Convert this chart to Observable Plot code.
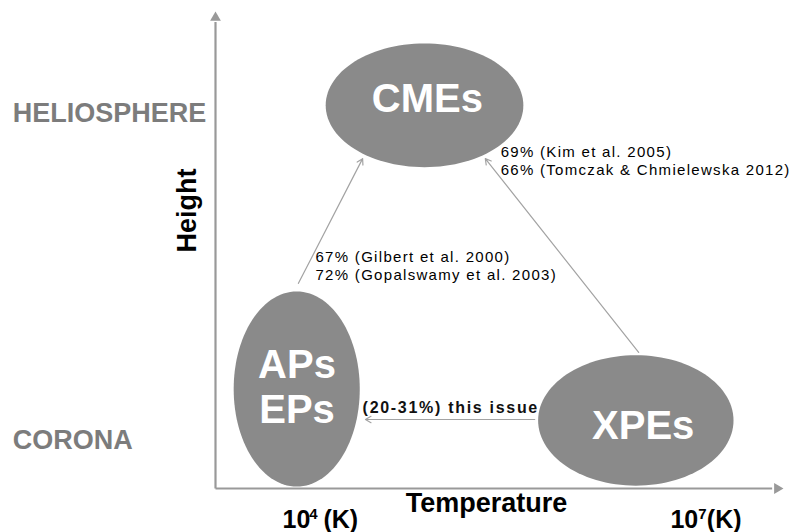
<!DOCTYPE html>
<html>
<head>
<meta charset="utf-8">
<script src="https://cdn.jsdelivr.net/npm/d3@7"></script>
<script src="https://cdn.jsdelivr.net/npm/@observablehq/plot@0.6"></script>
<style>
  html, body { margin: 0; padding: 0; background: #fff; }
  #chart svg { display: block; }
</style>
</head>
<body>
<div id="chart"></div>
<script>
// ---- Data (abstract diagram units: temperature 0–100, height 0–100) ----
const ellipseNames = ["CMEs", "APs/EPs", "XPEs"];
const ellipseCx = [36.8, 14.3, 74.0];
const ellipseCy = [80.5, 20.9, 14.3];
const ellipseRx = [17.4, 11.1, 17.2];
const ellipseRy = [13.0, 20.5, 13.7];

const arrowNames = ["APs→CMEs", "XPEs→CMEs", "XPEs→APs"];
const arrowX1 = [14.6, 74.5, 56.2];
const arrowY1 = [43.1, 28.6, 14.5];
const arrowX2 = [25.9, 47.5, 26.4];
const arrowY2 = [69.3, 69.3, 14.5];

const regionLabels = ["HELIOSPHERE", "CORONA"];
const regionY = [77.0, 8.4];
const regionX = [-35.7, -35.7];

const eventLabels = ["CMEs", "APs", "EPs", "XPEs"];
const eventX = [37.3, 14.35, 14.35, 75.3];
const eventY = [79.0, 23.3, 13.7, 10.5];

const citationLabels = [
  "69% (Kim et al. 2005)",
  "66% (Tomczak & Chmielewska 2012)",
  "67% (Gilbert et al. 2000)",
  "72% (Gopalswamy et al. 2003)"
];
const citationX = [50.2, 50.2, 17.6, 17.6];
const citationY = [69.7, 65.8, 47.5, 43.7];

const issueLabel = ["(20-31%) this issue"];
const issueX = [25.9];
const issueY = [15.8];

const tickBase = ["10", "10"];
const tickExp = ["4", "7"];
const tickUnit = ["(K)", "(K)"];
const tickBaseX = [11.8, 80.1];
const tickExpX = [16.5, 85.0];
const tickUnitX = [19.0, 86.5];
const tickY = -8.4;
const tickExpY = -6.5;

const xTitle = "Temperature";
const yTitle = "Height";

// ---- Tables built from the arrays ----
const FONT = "Liberation Sans, Arial, Helvetica, sans-serif";
const ellipsePts = [];
ellipseNames.forEach((name, i) => {
  for (let k = 0; k < 120; k++) {
    const t = (k / 120) * 2 * Math.PI;
    ellipsePts.push({
      name,
      x: ellipseCx[i] + ellipseRx[i] * Math.cos(t),
      y: ellipseCy[i] + ellipseRy[i] * Math.sin(t)
    });
  }
});
const arrows = arrowNames.map((n, i) => ({n, x1: arrowX1[i], y1: arrowY1[i], x2: arrowX2[i], y2: arrowY2[i]}));
const regions = regionLabels.map((t, i) => ({t, x: regionX[i], y: regionY[i]}));
const events = eventLabels.map((t, i) => ({t, x: eventX[i], y: eventY[i]}));
const citations = citationLabels.map((t, i) => ({t, x: citationX[i], y: citationY[i]}));
const issue = issueLabel.map((t, i) => ({t, x: issueX[i], y: issueY[i]}));
const ticks = tickBase.map((b, i) => ({b, e: tickExp[i], u: tickUnit[i], bx: tickBaseX[i], ex: tickExpX[i], ux: tickUnitX[i]}));

const chart = Plot.plot({
  width: 793,
  height: 532,
  marginLeft: 215,
  marginRight: 10,
  marginTop: 12,
  marginBottom: 44,
  x: {domain: [0, 100], axis: null},
  y: {domain: [0, 100], axis: null},
  style: {fontFamily: FONT, background: "#fff", overflow: "visible"},
  marks: [
    // axes with arrowheads
    Plot.link([{x1: 0, y1: 0, x2: 0, y2: 98}], {x1: "x1", y1: "y1", x2: "x2", y2: "y2", stroke: "#999", strokeWidth: 2.2}),
    Plot.link([{x1: 0, y1: 0, x2: 98, y2: 0}], {x1: "x1", y1: "y1", x2: "x2", y2: "y2", stroke: "#999", strokeWidth: 2.2}),
    Plot.dot([{x: 0, y: 98.9}], {x: "x", y: "y", symbol: "triangle", r: 4, fill: "#999", stroke: "none"}),
    Plot.dot([{x: 98.9, y: 0}], {x: "x", y: "y", symbol: "triangle", r: 4, rotate: 90, fill: "#999", stroke: "none"}),
    // ellipses
    Plot.line(ellipsePts, {x: "x", y: "y", z: "name", curve: "linear-closed", fill: "#8a8a8a", stroke: "none"}),
    // arrows
    Plot.arrow(arrows, {x1: "x1", y1: "y1", x2: "x2", y2: "y2", stroke: "#a3a3a3", strokeWidth: 1.2, headLength: 8}),
    // region labels
    Plot.text(regions, {x: "x", y: "y", text: "t", textAnchor: "start", lineAnchor: "bottom", fontSize: 27, fontWeight: "bold", fill: "#7c7c7c"}),
    // event labels
    Plot.text(events, {x: "x", y: "y", text: "t", textAnchor: "middle", lineAnchor: "bottom", fontSize: 40, fontWeight: "bold", fill: "#fff"}),
    // citations
    Plot.text(citations, {x: "x", y: "y", text: "t", textAnchor: "start", lineAnchor: "bottom", fontSize: 15, fill: "#000"}),
    Plot.text(issue, {x: "x", y: "y", text: "t", textAnchor: "start", lineAnchor: "bottom", fontSize: 16, fontWeight: "bold", fill: "#111"}),
    // axis titles
    Plot.text([xTitle], {x: 47.7, y: -5.04, text: d => d, textAnchor: "middle", lineAnchor: "bottom", fontSize: 27, fontWeight: "bold", fill: "#000"}),
    Plot.text([yTitle], {x: -4.9, y: 58.4, text: d => d, rotate: -90, textAnchor: "middle", lineAnchor: "middle", fontSize: 27, fontWeight: "bold", fill: "#000"}),
    // temperature tick labels
    Plot.text(ticks, {x: "bx", y: tickY, text: "b", textAnchor: "start", lineAnchor: "bottom", fontSize: 25, fontWeight: "bold", fill: "#000"}),
    Plot.text(ticks, {x: "ex", y: tickExpY, text: "e", textAnchor: "start", lineAnchor: "bottom", fontSize: 15, fontWeight: "bold", fill: "#000"}),
    Plot.text(ticks, {x: "ux", y: tickY, text: "u", textAnchor: "start", lineAnchor: "bottom", fontSize: 25, fontWeight: "bold", fill: "#000"})
  ]
});

// widen spacing of the annotation texts like in the original
d3.select(chart).selectAll("text").each(function() {
  const s = this.textContent;
  if (citationLabels.includes(s)) this.setAttribute("letter-spacing", "1.3");
  if (issueLabel.includes(s)) this.setAttribute("letter-spacing", "1.7");
});

document.getElementById("chart").appendChild(chart);
</script>
</body>
</html>
